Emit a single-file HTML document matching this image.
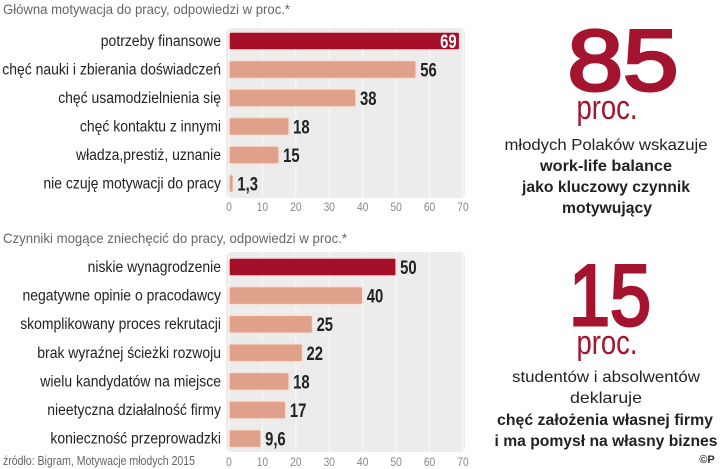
<!DOCTYPE html>
<html><head><meta charset="utf-8"><style>
body{margin:0;background:#fff}
svg{display:block;font-family:"Liberation Sans",sans-serif}
</style></head><body>
<svg id="c" width="720" height="469" viewBox="0 0 720 469" xmlns="http://www.w3.org/2000/svg">
<text x="3" y="14" font-size="14" fill="#666" textLength="287" lengthAdjust="spacingAndGlyphs">Główna motywacja do pracy, odpowiedzi w proc.*</text>
<text x="3" y="243" font-size="14" fill="#666" textLength="344" lengthAdjust="spacingAndGlyphs">Czynniki mogące zniechęcić do pracy, odpowiedzi w proc.*</text>
<text x="3" y="465" font-size="13" fill="#666" textLength="192" lengthAdjust="spacingAndGlyphs">źródło: Bigram, Motywacje młodych 2015</text>
<g id="g1"></g>
<g id="g2"></g>
<g text-anchor="middle">
<text x="623" y="90" font-size="86" fill="#a5142e" stroke="#a5142e" stroke-width="3" textLength="111" lengthAdjust="spacingAndGlyphs">85</text>
<text x="607" y="119" font-size="34" fill="#a5142e" textLength="61" lengthAdjust="spacingAndGlyphs">proc.</text>
<text x="606" y="150" font-size="16" fill="#222" textLength="203" lengthAdjust="spacingAndGlyphs">młodych Polaków wskazuje</text>
<text x="606" y="171" font-size="16" font-weight="bold" fill="#222" textLength="132" lengthAdjust="spacingAndGlyphs">work-life balance</text>
<text x="606" y="192" font-size="16" font-weight="bold" fill="#222" textLength="168" lengthAdjust="spacingAndGlyphs">jako kluczowy czynnik</text>
<text x="607" y="213" font-size="16" font-weight="bold" fill="#222" textLength="90" lengthAdjust="spacingAndGlyphs">motywujący</text>
<text x="610" y="325" font-size="86" fill="#a5142e" stroke="#a5142e" stroke-width="3" textLength="82" lengthAdjust="spacingAndGlyphs">15</text>
<text x="607" y="354" font-size="34" fill="#a5142e" textLength="61" lengthAdjust="spacingAndGlyphs">proc.</text>
<text x="606" y="382" font-size="16" fill="#222" textLength="188" lengthAdjust="spacingAndGlyphs">studentów i absolwentów</text>
<text x="606" y="403" font-size="16" fill="#222" textLength="72" lengthAdjust="spacingAndGlyphs">deklaruje</text>
<text x="605" y="425" font-size="16" font-weight="bold" fill="#222" textLength="216" lengthAdjust="spacingAndGlyphs">chęć założenia własnej firmy</text>
<text x="606" y="446" font-size="16" font-weight="bold" fill="#222" textLength="223" lengthAdjust="spacingAndGlyphs">i ma pomysł na własny biznes</text>
<text x="707" y="463" font-size="11" font-weight="bold" fill="#333">©P</text>
</g>
</svg>
<script>
const cats1=["potrzeby finansowe","chęć nauki i zbierania doświadczeń","chęć usamodzielnienia się","chęć kontaktu z innymi","władza,prestiż, uznanie","nie czuję motywacji do pracy"];
const vals1=[69,56,38,18,15,1.3];
const labels1=["69","56","38","18","15","1,3"];
const cats2=["niskie wynagrodzenie","negatywne opinie o pracodawcy","skomplikowany proces rekrutacji","brak wyraźnej ścieżki rozwoju","wielu kandydatów na miejsce","nieetyczna działalność firmy","konieczność przeprowadzki"];
const vals2=[50,40,25,22,18,17,9.6];
const labels2=["50","40","25","22","18","17","9,6"];
const ticks=[0,10,20,30,40,50,60,70];
const NS="http://www.w3.org/2000/svg";
function mk(tag,a,p){const e=document.createElementNS(NS,tag);for(const k in a)e.setAttribute(k,a[k]);p.appendChild(e);return e;}
function cond(t,f){const L=t.getComputedTextLength();t.setAttribute('textLength',(L*f).toFixed(1));t.setAttribute('lengthAdjust','spacingAndGlyphs');}
const x0=229,x1=463;
function xs(v){return x0+(x1-x0)*v/70;}
function draw(g,cats,vals,labs,top,step,bgTop,bgBot,tickY){
  const bg=mk('rect',{x:226,y:bgTop,width:239,height:bgBot-bgTop,rx:5,fill:'#ececec'},g);
  
  
  ticks.forEach(t=>{
    const l=mk('line',{x1:xs(t),x2:xs(t),y1:bgTop,y2:bgBot,stroke:'#fafafa','stroke-width':1},g);
    
    
    const tx=mk('text',{x:xs(t),y:tickY,'font-size':12,fill:'#888','text-anchor':'middle'},g);
    tx.textContent=t;
    
    
    cond(tx,0.85);
  });
  cats.forEach((c,i)=>{
    const cy=top+i*step;
    const lt=mk('text',{x:221,y:cy+5,'font-size':15.5,fill:'#222','text-anchor':'end'},g);
    lt.textContent=c;
    
    
    cond(lt,0.9);
    const first=i===0;
    const w=Math.max(xs(vals[i])-x0,2);
    const b=mk('rect',{x:x0,y:cy-9,width:w,height:18,rx:2,fill:first?'#a50f2a':'#dfa189',stroke:'#f6e2da','stroke-width':1.5},g);
    
    
    const inside=first&&vals[i]>60;
    const vt=mk('text',{x:inside?xs(vals[i])-3:xs(vals[i])+4,y:cy+7,'font-size':19,'font-weight':'bold',fill:inside?'#fff':'#222','text-anchor':inside?'end':'start'},g);
    vt.textContent=labs[i];
    
    
    cond(vt,0.78);
  });
}
draw(document.getElementById('g1'),cats1,vals1,labels1,41,28.5,28,198,211);
draw(document.getElementById('g2'),cats2,vals2,labels2,267,28.6,252,452,466);
</script>
</body></html>
